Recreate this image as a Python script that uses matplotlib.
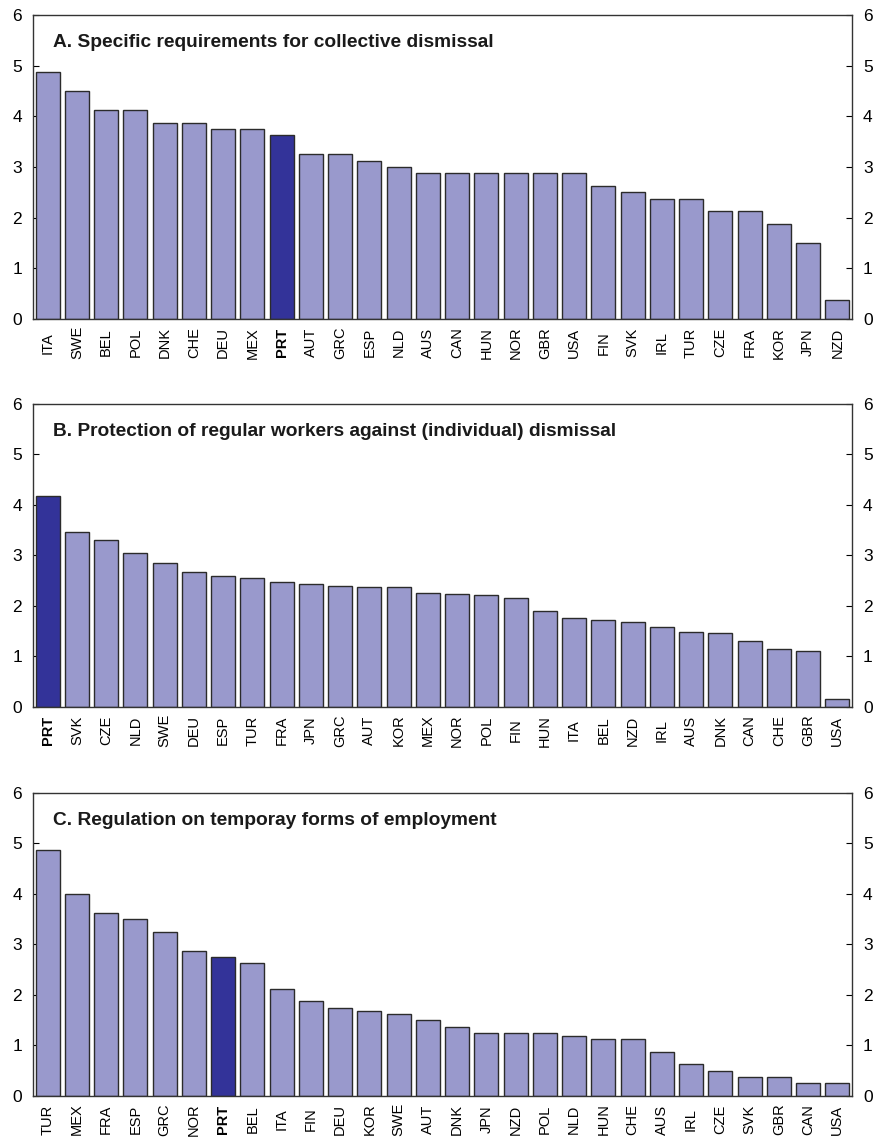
import numpy as np
import matplotlib
matplotlib.use("Agg")
import matplotlib.pyplot as plt

plt.rcParams['font.family'] = ['Liberation Sans', 'DejaVu Sans']

# --- Panel data ---
countries_a = ["ITA", "SWE", "BEL", "POL", "DNK", "CHE", "DEU", "MEX", "PRT", "AUT",
               "GRC", "ESP", "NLD", "AUS", "CAN", "HUN", "NOR", "GBR", "USA", "FIN",
               "SVK", "IRL", "TUR", "CZE", "FRA", "KOR", "JPN", "NZD"]
values_a = [4.875, 4.5, 4.125, 4.125, 3.875, 3.875, 3.75, 3.75, 3.625, 3.25,
            3.25, 3.125, 3.0, 2.875, 2.875, 2.875, 2.875, 2.875, 2.875, 2.625,
            2.5, 2.375, 2.375, 2.125, 2.125, 1.875, 1.5, 0.375]

countries_b = ["PRT", "SVK", "CZE", "NLD", "SWE", "DEU", "ESP", "TUR", "FRA", "JPN",
               "GRC", "AUT", "KOR", "MEX", "NOR", "POL", "FIN", "HUN", "ITA", "BEL",
               "NZD", "IRL", "AUS", "DNK", "CAN", "CHE", "GBR", "USA"]
values_b = [4.17, 3.47, 3.30, 3.05, 2.85, 2.67, 2.59, 2.55, 2.47, 2.43,
            2.40, 2.37, 2.37, 2.26, 2.24, 2.21, 2.16, 1.91, 1.77, 1.72,
            1.69, 1.59, 1.49, 1.46, 1.31, 1.14, 1.10, 0.15]

countries_c = ["TUR", "MEX", "FRA", "ESP", "GRC", "NOR", "PRT", "BEL", "ITA", "FIN",
               "DEU", "KOR", "SWE", "AUT", "DNK", "JPN", "NZD", "POL", "NLD", "HUN",
               "CHE", "AUS", "IRL", "CZE", "SVK", "GBR", "CAN", "USA"]
values_c = [4.875, 4.0, 3.625, 3.5, 3.25, 2.875, 2.75, 2.625, 2.125, 1.875,
            1.75, 1.69, 1.625, 1.5, 1.375, 1.25, 1.25, 1.25, 1.19, 1.125,
            1.125, 0.875, 0.625, 0.5, 0.375, 0.375, 0.25, 0.25]

titles = ["A. Specific requirements for collective dismissal",
          "B. Protection of regular workers against (individual) dismissal",
          "C. Regulation on temporay forms of employment"]

highlight = "PRT"
light = "#9999CC"
dark = "#333399"

fig = plt.figure(figsize=(8.75, 11.39), dpi=100)

# axes boxes in figure fractions: left, bottom, width, height
boxes = [[0.0377, 0.7199, 0.936, 0.2669],
         [0.0377, 0.3793, 0.936, 0.2660],
         [0.0377, 0.0378, 0.936, 0.2660]]

panels = [(countries_a, values_a), (countries_b, values_b), (countries_c, values_c)]

for box, (cats, vals), title in zip(boxes, panels, titles):
    ax = fig.add_axes(box)
    x = np.arange(len(cats))
    colors = [dark if c == highlight else light for c in cats]
    ax.bar(x, vals, width=0.82, color=colors, edgecolor="#2b2b2b", linewidth=1.0, zorder=2)

    ax.set_xlim(-0.5, len(cats) - 0.5)
    ax.set_ylim(0, 6)
    ax.set_yticks(range(0, 7))
    ax.set_xticks(x)
    ax.set_xticklabels(cats, rotation=90, fontsize=10.5)
    for lbl in ax.get_xticklabels():
        lbl.set_verticalalignment("center")
        if lbl.get_text() == highlight:
            lbl.set_fontweight("bold")

    ax.tick_params(axis="y", direction="in", length=4, width=0.8, labelsize=12.5,
                   left=True, right=True, labelleft=True, labelright=True, pad=8)
    ax.tick_params(axis="x", direction="in", length=3, width=0.8, pad=17)

    for sp in ax.spines.values():
        sp.set_color("#333333")
        sp.set_linewidth(1.0)

    ax.text(0.024, 0.91, title, transform=ax.transAxes, fontsize=13.8,
            fontweight="bold", va="center", ha="left", color="#1a1a1a")

fig.savefig("out.png", dpi=100)
